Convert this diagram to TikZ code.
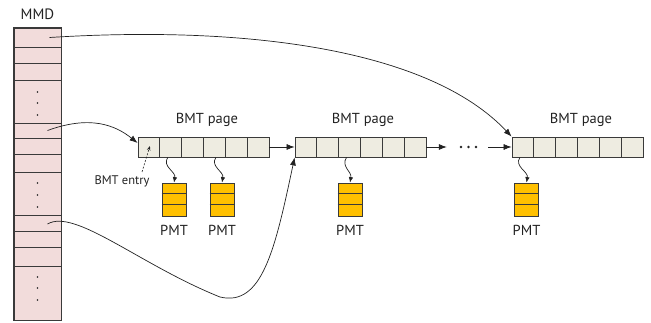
\documentclass[tikz,border=0pt]{standalone}
\usepackage{fontspec}
\setmainfont{PT Sans}
\usetikzlibrary{arrows.meta}
\definecolor{mmdfill}{HTML}{F2DCDB}
\definecolor{bmtfill}{HTML}{EEECE1}
\definecolor{pmtfill}{HTML}{FFC000}
\definecolor{edge}{HTML}{3A3A3A}
\definecolor{ink}{HTML}{222222}
\begin{document}
\begin{tikzpicture}[x=1pt,y=-1pt,
  mmdrow/.style={draw=edge,fill=mmdfill,line width=0.9pt,inner sep=0pt,minimum width=47pt},
  cell/.style={draw=edge,fill=bmtfill,line width=0.8pt,inner sep=0pt,minimum width=21.83pt,minimum height=20pt},
  pmtbox/.style={draw=edge,fill=pmtfill,line width=0.8pt,inner sep=0pt,minimum width=24pt,minimum height=33pt},
  lbl/.style={font=\fontsize{14.5}{16}\selectfont,text=ink,inner sep=0pt},
  small/.style={font=\fontsize{12.5}{14}\selectfont,text=ink,inner sep=0pt},
  link/.style={draw=ink,line width=0.7pt,-{Latex[length=8pt,width=6pt]}},
  wavy/.style={draw=ink,line width=0.7pt,-{Latex[length=5.5pt,width=4.5pt]}},
  entryarrow/.style={draw=ink,line width=0.6pt,dashed,dash pattern=on 2pt off 1.5pt,-{Stealth[length=4.5pt,width=3.5pt]}},
  dotnode/.style={inner sep=0pt,minimum width=41pt,minimum height=6pt}
]
\useasboundingbox (0,0) rectangle (651,323);

% MMD column
\node[lbl,font=\fontsize{15}{17}\selectfont] (mmdlabel) at (37.5,14) {MMD};
\foreach \i/\a/\b in {1/28/47,2/47/63,3/63/80,4/80/123,5/123/138,6/138/154,7/154/172,8/172/215,9/215/231,10/231/247,11/247/266,12/266/320}{
  \node[mmdrow,minimum height={(\b-\a)*1pt}] (m\i) at (37.5,{(\a+\b)/2}) {};
}
\draw[draw=edge,line width=1.3pt] (m1.north west) rectangle (m12.south east);
\foreach \y in {92,103,115,183,195,207,277,288,300}{
  \fill[ink] (37.5,\y) circle (0.8);
}

% BMT pages
\foreach \p/\x in {1/138,2/295,3/512}{
  \foreach \c in {1,...,6}{
    \node[cell] (p\p c\c) at ({\x+(\c-0.5)*21.83},147) {};
  }
}
\node[lbl] (t1) at (207,120) {BMT page};
\node[lbl] (t2) at (363,120) {BMT page};
\node[lbl] (t3) at (581,120) {BMT page};

% ellipsis between pages
\node[dotnode] (ell) at (467.5,147) {};
\foreach \x in {461,468.5,476}{
  \fill[ink] (\x,147) circle (1.3);
}

\draw[link] (p1c6.east) -- (p2c1.west);
\draw[link] (p2c6.east) -- (ell.west);
\draw[link] (ell.east) -- (p3c1.west);

% PMT boxes
\foreach \n/\x in {1/174,2/222,3/350,4/526.5}{
  \node[pmtbox] (pmt\n) at (\x,199.5) {};
  \draw[draw=edge,line width=0.8pt] ([yshift=-11pt]pmt\n.north west) -- ([yshift=-11pt]pmt\n.north east);
  \draw[draw=edge,line width=0.8pt] ([yshift=-22pt]pmt\n.north west) -- ([yshift=-22pt]pmt\n.north east);
  \node[lbl] (pl\n) at (\x,230) {PMT};
}

% wavy pointers BMT entry -> PMT
\draw[wavy] ([xshift=-3pt]p1c2.south) .. controls +(-6,9) and +(2,-11) .. (pmt1.north);
\draw[wavy] ([xshift=1.5pt]p1c4.south) .. controls +(-6,9) and +(2,-11) .. (pmt2.north);
\draw[wavy] ([xshift=-3pt]p2c3.south) .. controls +(-6,9) and +(2,-11) .. (pmt3.north);
\draw[wavy] ([xshift=-3pt]p3c1.south) .. controls +(-6,9) and +(2,-11) .. (pmt4.north);

% BMT entry label
\node[small] (entry) at (122,181) {BMT entry};
\coordinate (entrytail) at (142,172);
\draw[entryarrow] (entrytail) -- ([xshift=1pt,yshift=1pt]p1c1.center);

% MMD pointers
\draw[link] ([xshift=12pt]m1.center) .. controls (250,25) and (430,50) .. (p3c1.north west);
\draw[link] ([xshift=10pt]m5.center) .. controls (90,115) and (115,125) .. ([yshift=4pt]p1c1.west);
\draw[link] ([xshift=10pt,yshift=-1pt]m9.center) .. controls (75,208) and (140,265) .. (220,297) .. controls (262,307) and (275,250) .. (p2c1.south west);
\end{tikzpicture}
\end{document}
